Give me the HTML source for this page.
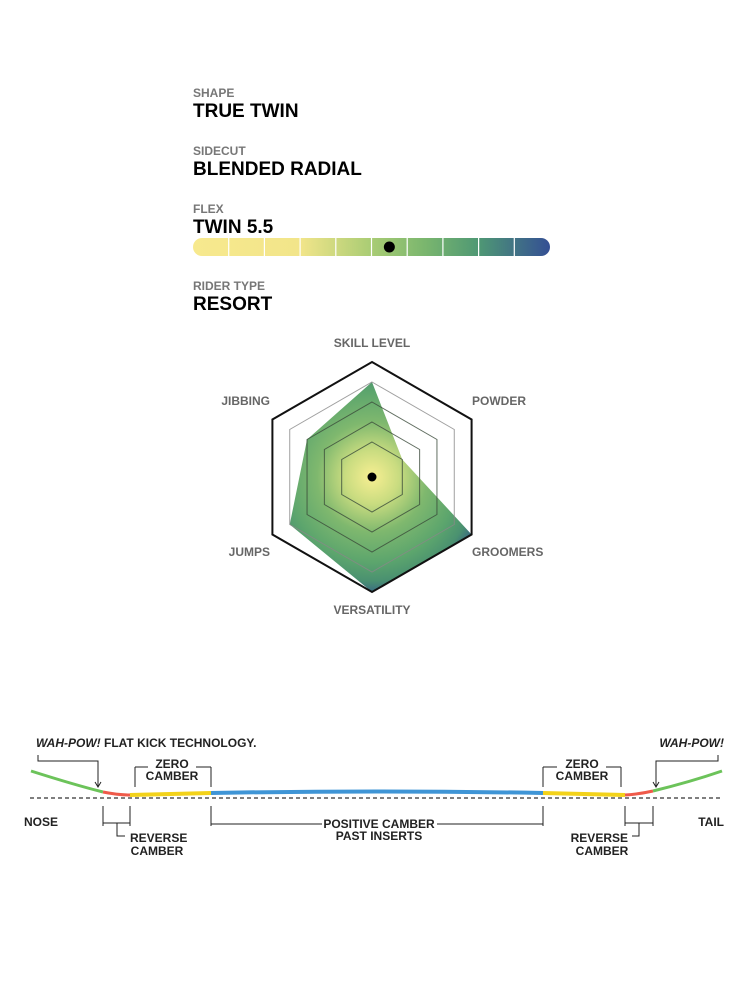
<!DOCTYPE html>
<html><head><meta charset="utf-8"><style>
body{margin:0;background:#fff;width:750px;height:1000px;overflow:hidden;font-family:"Liberation Sans",sans-serif}
svg text{font-family:"Liberation Sans",sans-serif}
</style></head><body>
<svg id="s" width="750" height="1000" viewBox="0 0 750 1000">
<defs>
<linearGradient id="flexg" x1="0" x2="1" y1="0" y2="0">
<stop offset="0" stop-color="#f7e98e"/><stop offset="0.3" stop-color="#f2e58a"/><stop offset="0.5" stop-color="#a9cc74"/><stop offset="0.65" stop-color="#7ab66e"/><stop offset="0.8" stop-color="#4f9874"/><stop offset="1" stop-color="#344f94"/>
</linearGradient>
<radialGradient id="radg" cx="372" cy="477" r="122" gradientUnits="userSpaceOnUse">
<stop offset="0" stop-color="#f8ef92"/><stop offset="0.22" stop-color="#c9dc80"/><stop offset="0.45" stop-color="#7fb86e"/><stop offset="0.7" stop-color="#5ca56d"/><stop offset="0.85" stop-color="#4a9170"/><stop offset="0.93" stop-color="#3c707f"/><stop offset="1" stop-color="#2f4e90"/>
</radialGradient>
</defs>
<g>
<text x="193" y="97" font-size="12" fill="#777" font-weight="bold">SHAPE</text>
<text x="193" y="117" font-size="19" font-weight="bold" fill="#000">TRUE TWIN</text>
<text x="193" y="155" font-size="12" fill="#777" font-weight="bold">SIDECUT</text>
<text x="193" y="175" font-size="19" font-weight="bold" fill="#000">BLENDED RADIAL</text>
<text x="193" y="213" font-size="12" fill="#777" font-weight="bold">FLEX</text>
<text x="193" y="233" font-size="19" font-weight="bold" fill="#000">TWIN 5.5</text>
<text x="193" y="290" font-size="12" fill="#777" font-weight="bold">RIDER TYPE</text>
<text x="193" y="310" font-size="19" font-weight="bold" fill="#000">RESORT</text>
</g>
<g id="flex">
<rect x="193" y="238" width="357" height="18" rx="9" fill="url(#flexg)"/>
</g>
<g id="radar"></g>
<g id="camber">
<line x1="30" y1="798" x2="722" y2="798" stroke="#333" stroke-width="1.2" stroke-dasharray="4,3"/>
<path d="M31,771 Q75,785 103,792" stroke="#6cc35a" stroke-width="3" fill="none"/>
<path d="M103,792 Q118,795 130,795" stroke="#ef5a4a" stroke-width="3" fill="none"/>
<path d="M130,795 L211,793" stroke="#f3d21a" stroke-width="4" fill="none"/>
<path d="M211,793 Q377,790 543,793" stroke="#3f95d6" stroke-width="4" fill="none"/>
<path d="M543,793 L625,795" stroke="#f3d21a" stroke-width="4" fill="none"/>
<path d="M625,795 Q640,794 653,791" stroke="#ef5a4a" stroke-width="3" fill="none"/>
<path d="M653,791 Q690,782 722,771" stroke="#6cc35a" stroke-width="3" fill="none"/>
<g stroke="#222" stroke-width="1" fill="none">
<path d="M38,755 V761 H98 V786"/><path d="M95,782 L98,787 L101,782"/>
<path d="M135,767 V787 M211,767 V787 M135,767 H148 M196,767 H211"/>
<path d="M103,806 V826 M130,806 V826 M103,823 H130 M117,823 V836 H125"/>
<path d="M211,806 V826 M543,806 V826 M211,824 H322 M437,824 H543"/>
<path d="M543,767 V787 M621,767 V787 M543,767 H557 M606,767 H621"/>
<path d="M625,806 V826 M653,806 V826 M625,823 H653 M639,823 V836 H632"/>
<path d="M718,755 V761 H656 V786"/><path d="M653,782 L656,787 L659,782"/>
</g>
<g font-weight="bold" font-size="12" fill="#222">
<text x="36" y="747"><tspan font-style="italic">WAH-POW!</tspan> FLAT KICK TECHNOLOGY.</text>
<text x="724" y="747" text-anchor="end" font-style="italic">WAH-POW!</text>
<text x="172" y="768" text-anchor="middle">ZERO</text>
<text x="172" y="780" text-anchor="middle">CAMBER</text>
<text x="582" y="768" text-anchor="middle">ZERO</text>
<text x="582" y="780" text-anchor="middle">CAMBER</text>
<text x="24" y="826">NOSE</text>
<text x="724" y="826" text-anchor="end">TAIL</text>
<text x="130" y="842">REVERSE</text>
<text x="157" y="855" text-anchor="middle">CAMBER</text>
<text x="628" y="842" text-anchor="end">REVERSE</text>
<text x="602" y="855" text-anchor="middle">CAMBER</text>
<text x="379" y="828" text-anchor="middle">POSITIVE CAMBER</text>
<text x="379" y="840" text-anchor="middle">PAST INSERTS</text>
</g>
</g>
</svg>
<script>
// Flex data
const flexValue = 5.5;
const flexMax = 10;
const flexSegments = 10;
// Radar data
const radarAxes = ["SKILL LEVEL","POWDER","GROOMERS","VERSATILITY","JUMPS","JIBBING"];
const radarValues = [4, 1, 5, 5, 4, 3];
const radarLevels = [1, 2, 3, 4, 5];

const NS = "http://www.w3.org/2000/svg";
function mk(tag, attrs, parent){const e=document.createElementNS(NS,tag);for(const k in attrs)e.setAttribute(k,attrs[k]);parent.appendChild(e);return e;}

const flexG = document.getElementById('flex');
const fx0 = 193, fw = 357;
const fScale = v => fx0 + v / flexMax * fw;
for (let i = 1; i < flexSegments; i++) {
  const l = mk('line', {x1: fScale(i*flexMax/flexSegments), x2: fScale(i*flexMax/flexSegments), y1: 238, y2: 256, stroke: '#fff', 'stroke-width': 1.2}, flexG);
  
  
}
const dot = mk('circle', {cx: fScale(flexValue), cy: 247, r: 5.5, fill: '#000'}, flexG);



const rg = document.getElementById('radar');
const cx = 372, cy = 477;
const rScale = v => v <= 0 ? 0 : 15 + 20 * v;
const ang = i => (-90 + 60 * i) * Math.PI / 180;
const pt = (i, r) => [cx + r * Math.cos(ang(i)), cy + r * Math.sin(ang(i))];
const poly = r => radarAxes.map((_, i) => pt(i, r).join(',')).join(' ');
const dataPts = radarValues.map((v, i) => pt(i, rScale(v)).join(',')).join(' ');
const area = mk('polygon', {points: dataPts, fill: 'url(#radg)'}, rg);


radarLevels.forEach((lv, k) => {
  const last = k === radarLevels.length - 1;
  const p = mk('polygon', {points: poly(rScale(lv)), fill: 'none',
    stroke: last ? '#111' : (k === radarLevels.length - 2 ? '#888' : '#3a4a3a'),
    'stroke-width': last ? 2 : 1, 'stroke-opacity': last ? 1 : 0.8}, rg);
  
  
});
const c = mk('circle', {cx: cx, cy: cy, r: 4.5, fill: '#000'}, rg);


const labelPos = [[372,347,'middle'],[472,405,'start'],[472,556,'start'],[372,614,'middle'],[270,556,'end'],[270,405,'end']];
radarAxes.forEach((a, i) => {
  const t = mk('text', {x: labelPos[i][0], y: labelPos[i][1], 'text-anchor': labelPos[i][2], 'font-size': 12, fill: '#666', 'font-weight': 'bold'}, rg);
  t.textContent = a;
  
  
});
</script>
</body></html>
